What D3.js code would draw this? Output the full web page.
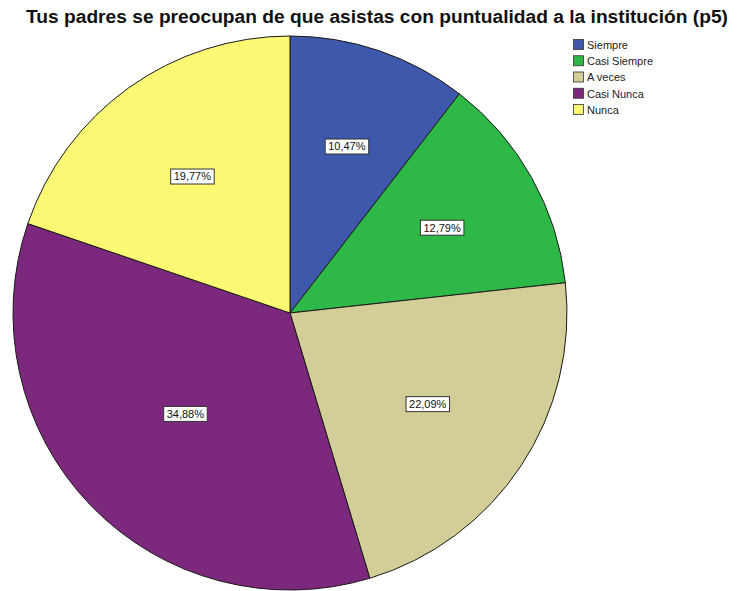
<!DOCTYPE html>
<html>
<head>
<meta charset="utf-8">
<script src="https://cdn.jsdelivr.net/npm/d3@7"></script>
<style>
  html, body { margin: 0; padding: 0; background: #fff; }
  svg { display: block; }
</style>
</head>
<body>
<svg id="chart" width="737" height="591"></svg>
<script>
const title = "Tus padres se preocupan de que asistas con puntualidad a la institución (p5)";
const categories = ["Siempre", "Casi Siempre", "A veces", "Casi Nunca", "Nunca"];
const counts = [9, 11, 19, 30, 17];
const percents = [10.47, 12.79, 22.09, 34.88, 19.77];
const colors = ["#3E58AC", "#2EB848", "#D3CE97", "#7C287D", "#FBF873"];

const svg = d3.select("#chart");
const W = 737, H = 591;
const cx = 290, cy = 313, R = 277;

svg.append("rect").attr("width", W).attr("height", H).attr("fill", "#fff");

// Title
svg.append("text")
  .attr("x", 377).attr("y", 23)
  .attr("text-anchor", "middle")
  .attr("font-family", "Liberation Sans, Arial, sans-serif")
  .attr("font-weight", "bold")
  .attr("font-size", "18px")
  .attr("textLength", 702)
  .attr("lengthAdjust", "spacingAndGlyphs")
  .attr("fill", "#111")
  .text(title);

const data = categories.map((c, i) => ({ cat: c, value: percents[i], color: colors[i] }));
const pie = d3.pie().value(d => d.value).sort(null);
const arcs = pie(data);
const arc = d3.arc().innerRadius(0).outerRadius(R);

const g = svg.append("g").attr("transform", `translate(${cx},${cy})`);
g.selectAll("path.slice").data(arcs).enter().append("path")
  .attr("class", "slice")
  .attr("d", arc)
  .attr("fill", d => d.data.color)
  .attr("stroke", "#1a1a1a")
  .attr("stroke-width", 1);

// Labels at sector area centroid
const fmt = v => v.toFixed(2).replace(".", ",") + "%";
arcs.forEach(a => {
  const half = (a.endAngle - a.startAngle) / 2;
  const mid = (a.startAngle + a.endAngle) / 2;
  const dist = (2 / 3) * R * Math.sin(half) / half * 0.97;
  const x = dist * Math.sin(mid), y = -dist * Math.cos(mid);
  const lg = g.append("g").attr("transform", `translate(${x},${y})`);
  const t = lg.append("text")
    .attr("text-anchor", "middle")
    .attr("dy", "0.35em")
    .attr("font-family", "Liberation Sans, Arial, sans-serif")
    .attr("font-size", "11px")
    .attr("fill", "#111")
    .text(fmt(a.data.value));
  const bb = t.node().getBBox();
  lg.insert("rect", "text")
    .attr("x", bb.x - 3).attr("y", -7.5)
    .attr("width", bb.width + 6).attr("height", 15)
    .attr("fill", "#fff")
    .attr("stroke", "#333")
    .attr("stroke-width", 1);
});

// Legend
const ly = d3.scalePoint().domain(categories).range([45, 110]);
const leg = svg.append("g");
categories.forEach((c, i) => {
  const y = ly(c);
  leg.append("rect")
    .attr("x", 573.5).attr("y", y - 5.5)
    .attr("width", 10).attr("height", 10)
    .attr("fill", colors[i])
    .attr("stroke", "#333").attr("stroke-width", 0.8);
  leg.append("text")
    .attr("x", 587).attr("y", y)
    .attr("dy", "0.35em")
    .attr("font-family", "Liberation Sans, Arial, sans-serif")
    .attr("font-size", "11px")
    .attr("fill", "#222")
    .text(c);
});
</script>
</body>
</html>
